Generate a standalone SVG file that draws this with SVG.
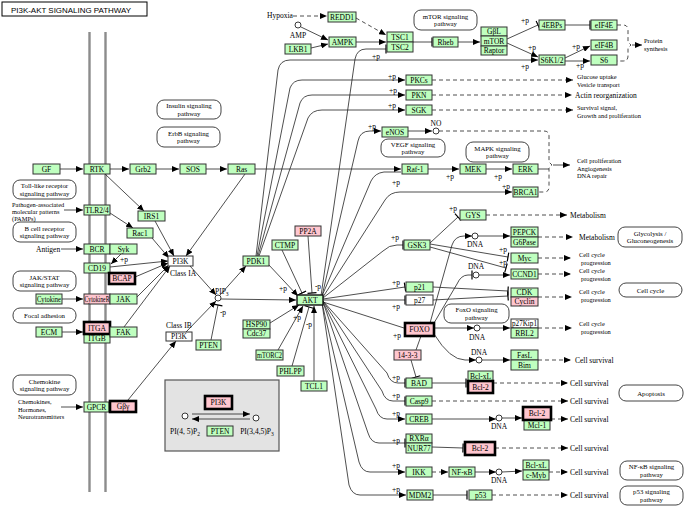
<svg xmlns="http://www.w3.org/2000/svg" width="685" height="508" viewBox="0 0 685 508">
<defs>
<marker id="a" markerWidth="7" markerHeight="6" refX="7" refY="3" orient="auto" markerUnits="userSpaceOnUse"><path d="M0,0L7,3L0,6z" fill="#000"/></marker>
<marker id="b" markerWidth="2" markerHeight="10" refX="1" refY="5" orient="auto" markerUnits="userSpaceOnUse"><path d="M1,0.5V9.5" stroke="#000" stroke-width="1.2"/></marker>
<style>
text{font-family:"Liberation Serif","DejaVu Serif",serif;font-size:7.5px;fill:#000}
.nd text{text-anchor:middle}
.g rect{fill:#bfffbf;stroke:#333;stroke-width:1}
.p rect{fill:#ffc6cf;stroke:#333;stroke-width:1}
.w rect{fill:#fff;stroke:#333;stroke-width:1}
.pb rect{fill:#ffc6cf;stroke:#000;stroke-width:2.6}
.pw rect{fill:#fff;stroke:#444;stroke-width:1}
.pw text{text-anchor:middle;font-size:6.8px}
.e path{fill:none;stroke:#222;stroke-width:0.8}
.e .d{stroke-dasharray:4 3}
.lab{font-size:7px}
.lab .s{font-size:6.4px}
.c{text-anchor:middle}
.dna{fill:#fff;stroke:#222;stroke-width:0.9}
</style>
</defs>
<rect width="685" height="508" fill="#fff"/>
<g id="title"><rect x="2" y="2" width="145" height="14" fill="#fff" stroke="#000" stroke-width="1"/><text x="11" y="12.5" style="font-family:'Liberation Sans',Arial,sans-serif;font-size:8px" textLength="120" lengthAdjust="spacingAndGlyphs">PI3K-AKT SIGNALING PATHWAY</text></g>
<g id="membrane" stroke="#8c8c8c" stroke-width="2.4"><line x1="89.5" y1="32" x2="89.5" y2="492"/><line x1="105.5" y1="32" x2="105.5" y2="492"/></g>
<g id="legend-box"><rect x="165" y="380" width="114" height="71" fill="#e3e3e3" stroke="#555" stroke-width="1.2"/></g>

<g id="pathways">
<g id="pw-insulin" class="pw"><rect x="157" y="100" width="64" height="19" rx="7"/><text x="189" y="108">Insulin signaling</text><text x="189" y="115.5">pathway</text></g>
<g id="pw-erbb" class="pw"><rect x="157" y="127" width="63" height="20" rx="7"/><text x="188.5" y="135.5">ErbB signaling</text><text x="188.5" y="143">pathway</text></g>
<g id="pw-mtor" class="pw"><rect x="414" y="10" width="63" height="20" rx="7"/><text x="445.5" y="18.5">mTOR signaling</text><text x="445.5" y="26">pathway</text></g>
<g id="pw-vegf" class="pw"><rect x="381" y="139" width="64" height="18" rx="7"/><text x="413" y="146.5">VEGF signaling</text><text x="413" y="154">pathway</text></g>
<g id="pw-mapk" class="pw"><rect x="466" y="142" width="63" height="20" rx="7"/><text x="497.5" y="150.5">MAPK signaling</text><text x="497.5" y="158">pathway</text></g>
<g id="pw-toll" class="pw"><rect x="13" y="180" width="63" height="19" rx="7"/><text x="44.5" y="188">Toll-like receptor</text><text x="44.5" y="195.5">signaling pathway</text></g>
<g id="pw-bcr" class="pw"><rect x="13" y="222" width="63" height="20" rx="7"/><text x="44.5" y="230.5">B cell receptor</text><text x="44.5" y="238">signaling pathway</text></g>
<g id="pw-jak" class="pw"><rect x="13" y="271" width="63" height="20" rx="7"/><text x="44.5" y="279.5">JAK/STAT</text><text x="44.5" y="287">signaling pathway</text></g>
<g id="pw-focal" class="pw"><rect x="13" y="308" width="63" height="15" rx="7"/><text x="44.5" y="318">Focal adhesion</text></g>
<g id="pw-chemokine" class="pw"><rect x="13" y="375" width="63" height="20" rx="7"/><text x="44.5" y="383.5">Chemokine</text><text x="44.5" y="391">signaling pathway</text></g>
<g id="pw-foxo" class="pw"><rect x="444" y="304" width="65" height="19" rx="7"/><text x="476.5" y="312">FoxO signaling</text><text x="476.5" y="319.5">pathway</text></g>
<g id="pw-glyco" class="pw"><rect x="618" y="227" width="64" height="20" rx="7"/><text x="650" y="235.5">Glycolysis /</text><text x="650" y="243">Gluconeogenesis</text></g>
<g id="pw-cellcycle" class="pw"><rect x="619" y="283" width="63" height="14" rx="7"/><text x="650.5" y="292.5">Cell cycle</text></g>
<g id="pw-apoptosis" class="pw"><rect x="619" y="385" width="64" height="16" rx="7"/><text x="651" y="395.5">Apoptosis</text></g>
<g id="pw-nfkb" class="pw"><rect x="620" y="461" width="63" height="19" rx="7"/><text x="651.5" y="469">NF-κB signaling</text><text x="651.5" y="476.5">pathway</text></g>
<g id="pw-p53" class="pw"><rect x="620" y="486" width="63" height="19" rx="7"/><text x="651.5" y="494">p53 signaling</text><text x="651.5" y="501.5">pathway</text></g>
</g>

<g id="connectors" class="e">
<path d="M60,169H83" marker-end="url(#a)"/>
<path d="M110,169H129" marker-end="url(#a)"/>
<path d="M156,169H179" marker-end="url(#a)"/>
<path d="M206,169H227" marker-end="url(#a)"/>
<path d="M255,169H401" marker-end="url(#a)"/>
<path d="M105,174L144,211" marker-end="url(#a)"/>
<path d="M155,221L174,256" marker-end="url(#a)"/>
<path d="M245,174L186,256" marker-end="url(#a)"/>
<path d="M110,213L133,228" marker-end="url(#a)"/>
<path d="M152,238L169,258" marker-end="url(#a)"/>
<path d="M121,254L111,264" marker-end="url(#a)"/>
<path d="M110,267L168,261" marker-end="url(#a)"/>
<path d="M135,277L168,263" marker-end="url(#a)"/>
<path d="M137,297L169,265" marker-end="url(#a)"/>
<path d="M124,327L170,266" marker-end="url(#a)"/>
<path d="M128,400L176,341" marker-end="url(#a)"/>
<path d="M64,210H83" marker-end="url(#a)"/>
<path d="M61,249H83" marker-end="url(#a)"/>
<path d="M62,299H83" marker-end="url(#a)"/>
<path d="M62,332H83" marker-end="url(#a)"/>
<path d="M61,407H83" marker-end="url(#a)"/>
<path d="M190,266L216,295" marker-end="url(#a)"/>
<path d="M186,332L216,301" marker-end="url(#a)"/>
<path d="M220,295L246,266" marker-end="url(#a)"/>
<path d="M221,299L296,300" marker-end="url(#a)"/>
<path d="M211,340L218,305" marker-end="url(#b)"/>
<path d="M268,264L298,296" marker-end="url(#a)"/>
<path d="M282,250L302,293" marker-end="url(#b)"/>
<path d="M308,236L312,293" marker-end="url(#b)"/>
<path d="M270,323L299,305" marker-end="url(#a)"/>
<path d="M278,350L303,306" marker-end="url(#a)"/>
<path d="M292,366L309,307" marker-end="url(#b)"/>
<path d="M314,381V306" marker-end="url(#a)"/>
<path d="M323,301L387,373Q390,383 398,383H405" marker-end="url(#b)"/>
<path d="M323,301L382,391Q385,401 393,401H405" marker-end="url(#b)"/>
<path d="M323,302L376,409Q379,419 387,419H405" marker-end="url(#a)"/>
<path d="M323,302L368,433Q371,443 379,443H405" marker-end="url(#b)"/>
<path d="M322,303L359,462Q362,472 370,472H405" marker-end="url(#a)"/>
<path d="M322,303L349,485Q352,495 360,495H406" marker-end="url(#a)"/>
<path d="M323,302L404,328"/>
<path d="M323,300H405" marker-end="url(#b)"/>
<path d="M323,299L405,287" marker-end="url(#b)"/>
<path d="M323,298L383,251Q389,245 397,245H403" marker-end="url(#b)"/>
<path d="M323,297L385,200Q390,192 400,192H512" marker-end="url(#a)"/>
<path d="M322,296L371,181Q375,173 384,172L401,172"/>
<path d="M322,296L358,141Q360,131 370,131H381" marker-end="url(#a)"/>
<path d="M321,296L355,59Q357,49 366,49H386" marker-end="url(#b)"/>
<path d="M256,256L278,70Q280,60 290,60H538" marker-end="url(#a)"/>
<path d="M257,256L290,88Q293,80 302,80H405" marker-end="url(#a)"/>
<path d="M258,256L300,103Q303,95 312,95H405" marker-end="url(#a)"/>
<path d="M259,256L308,118Q312,110 322,110H405" marker-end="url(#a)"/>
<path class="d" d="M293,16H327" marker-end="url(#a)"/>
<path class="d" d="M356,18L386,35" marker-end="url(#a)"/>
<path d="M301,27L328,40" marker-end="url(#a)"/>
<path d="M311,48L328,44" marker-end="url(#a)"/>
<path d="M356,42H386" marker-end="url(#a)"/>
<path d="M413,42H432" marker-end="url(#b)"/>
<path d="M458,42H480" marker-end="url(#a)"/>
<path d="M507,39L538,25" marker-end="url(#b)"/>
<path d="M507,43L538,57" marker-end="url(#a)"/>
<path d="M565,25H590" marker-end="url(#b)"/>
<path d="M565,58L590,46" marker-end="url(#a)"/>
<path d="M565,61H590" marker-end="url(#a)"/>
<path class="d" d="M617,25H623Q628,25 628,30V42L631,45L628,48V56Q628,61 623,61H617"/>
<path d="M632,45H642" marker-end="url(#a)"/>
<path class="d" d="M432,80H573" marker-end="url(#a)"/>
<path class="d" d="M432,95H572" marker-end="url(#a)"/>
<path class="d" d="M432,110H573" marker-end="url(#a)"/>
<path d="M408,131H432" marker-end="url(#a)"/>
<path class="d" d="M439,131H544Q549,131 549,136V162L552,165L549,168V187Q549,192 544,192H538"/>
<path d="M538,169H549"/>
<path d="M553,165H570" marker-end="url(#a)"/>
<path d="M428,169H459" marker-end="url(#a)"/>
<path d="M486,169H512" marker-end="url(#a)"/>
<path d="M430,243L458,217" marker-end="url(#b)"/>
<path class="d" d="M486,215H567" marker-end="url(#a)"/>
<path d="M430,244L508,257" marker-end="url(#b)"/>
<path d="M430,247L506,268" marker-end="url(#b)"/>
<path d="M430,323L452,245Q455,236 464,236H472" marker-end="url(#a)"/>
<path d="M478,236H510" marker-end="url(#a)"/>
<path class="d" d="M538,237H573" marker-end="url(#a)"/>
<path class="d" d="M538,258H571" marker-end="url(#a)"/>
<path d="M434,323L457,284Q461,275 468,275H472" marker-end="url(#b)"/>
<path d="M479,275H510" marker-end="url(#a)"/>
<path class="d" d="M538,274H571" marker-end="url(#a)"/>
<path d="M433,287L508,291" marker-end="url(#b)"/>
<path d="M433,300L508,296" marker-end="url(#b)"/>
<path class="d" d="M538,297H572" marker-end="url(#a)"/>
<path d="M434,328H474" marker-end="url(#a)"/>
<path d="M480,328H510" marker-end="url(#a)"/>
<path class="d" d="M538,328H572" marker-end="url(#a)"/>
<path d="M434,334Q450,360 465,360H476" marker-end="url(#a)"/>
<path d="M482,360H510" marker-end="url(#a)"/>
<path class="d" d="M538,360H571" marker-end="url(#a)"/>
<path d="M416,350L421,336"/>
<path d="M411,360L416,377" marker-end="url(#b)"/>
<path d="M432,383H466" marker-end="url(#b)"/>
<path class="d" d="M493,383H568" marker-end="url(#a)"/>
<path class="d" d="M432,401H568" marker-end="url(#a)"/>
<path d="M432,419H496" marker-end="url(#a)"/>
<path d="M502,418H522" marker-end="url(#a)"/>
<path class="d" d="M551,419H568" marker-end="url(#a)"/>
<path d="M432,447L463,448" marker-end="url(#b)"/>
<path class="d" d="M495,448H568" marker-end="url(#a)"/>
<path class="d" d="M432,472H448" marker-end="url(#a)"/>
<path d="M475,472H496" marker-end="url(#a)"/>
<path d="M502,472L522,471" marker-end="url(#a)"/>
<path class="d" d="M549,472H568" marker-end="url(#a)"/>
<path d="M433,495H467" marker-end="url(#b)"/>
<path class="d" d="M492,495H568" marker-end="url(#a)"/>
<path d="M192,414H250" marker-end="url(#a)"/>
<path d="M250,419H192" marker-end="url(#a)"/>
</g>

<g id="compounds">
<circle class="dna" cx="218" cy="298" r="3"/>
<circle class="dna" cx="298" cy="25" r="3"/>
<circle class="dna" cx="436" cy="131" r="3"/>
<circle class="dna" cx="475" cy="236" r="3"/>
<circle class="dna" cx="476" cy="275" r="3"/>
<circle class="dna" cx="477" cy="328" r="3"/>
<circle class="dna" cx="479" cy="360" r="3"/>
<circle class="dna" cx="499" cy="418" r="3"/>
<circle class="dna" cx="499" cy="472" r="3"/>
<circle class="dna" cx="185" cy="416" r="3"/>
<circle class="dna" cx="256" cy="418" r="3"/>
</g>

<g id="nodes" class="nd">
<g id="GF" class="g"><rect x="33" y="164" width="27" height="10"/><text x="46.5" y="171.6">GF</text></g>
<g id="RTK" class="g"><rect x="84" y="164" width="26" height="10"/><text x="97" y="171.6">RTK</text></g>
<g id="Grb2" class="g"><rect x="130" y="164" width="26" height="10"/><text x="143" y="171.6">Grb2</text></g>
<g id="SOS" class="g"><rect x="180" y="164" width="26" height="10"/><text x="193" y="171.6">SOS</text></g>
<g id="Ras" class="g"><rect x="228" y="164" width="27" height="10"/><text x="241.5" y="171.6">Ras</text></g>
<g id="TLR24" class="g"><rect x="84" y="205" width="26" height="10"/><text x="97" y="212.6">TLR2/4</text></g>
<g id="IRS1" class="g"><rect x="138" y="211" width="27" height="10"/><text x="151.5" y="218.6">IRS1</text></g>
<g id="Rac1" class="g"><rect x="127" y="228" width="26" height="10"/><text x="140" y="235.6">Rac1</text></g>
<g id="BCR" class="g"><rect x="84" y="244" width="26" height="10"/><text x="97" y="251.6">BCR</text></g>
<g id="Syk" class="g"><rect x="110" y="244" width="27" height="10"/><text x="123.5" y="251.6">Syk</text></g>
<g id="CD19" class="g"><rect x="84" y="263" width="26" height="10"/><text x="97" y="270.6">CD19</text></g>
<g id="BCAP" class="pb"><rect x="109" y="273" width="26" height="11"/><text x="122" y="281.1">BCAP</text></g>
<g id="PI3K-IA" class="w"><rect x="168" y="256" width="25" height="10"/><text x="180.5" y="263.6">PI3K</text></g>
<g id="Cytokine" class="g"><rect x="36" y="294" width="26" height="10"/><text x="49" y="301.6" textLength="24" lengthAdjust="spacingAndGlyphs">Cytokine</text></g>
<g id="CytokineR" class="p"><rect x="84" y="294" width="26" height="10"/><text x="97" y="301.6" textLength="25" lengthAdjust="spacingAndGlyphs">CytokineR</text></g>
<g id="JAK" class="g"><rect x="110" y="294" width="27" height="10"/><text x="123.5" y="301.6">JAK</text></g>
<g id="ECM" class="g"><rect x="36" y="327" width="26" height="10"/><text x="49" y="334.6">ECM</text></g>
<g id="ITGB" class="g"><rect x="84" y="334" width="26" height="9"/><text x="97" y="341.1">ITGB</text></g>
<g id="ITGA" class="pb"><rect x="84" y="322" width="26" height="12"/><text x="97" y="330.6">ITGA</text></g>
<g id="FAK" class="g"><rect x="110" y="327" width="27" height="10"/><text x="123.5" y="334.6">FAK</text></g>
<g id="PI3K-IB" class="w"><rect x="166" y="332" width="26" height="9"/><text x="179" y="339.1">PI3K</text></g>
<g id="PTEN" class="g"><rect x="196" y="340" width="25" height="10"/><text x="208.5" y="347.6">PTEN</text></g>
<g id="GPCR" class="g"><rect x="84" y="402" width="25" height="10"/><text x="96.5" y="409.6">GPCR</text></g>
<g id="Gbg" class="pb"><rect x="110" y="401" width="26" height="11"/><text x="123" y="409.1">Gβγ</text></g>
<g id="PDK1" class="g"><rect x="243" y="256" width="26" height="10"/><text x="256" y="263.6">PDK1</text></g>
<g id="CTMP" class="g"><rect x="272" y="240" width="26" height="10"/><text x="285" y="247.6">CTMP</text></g>
<g id="PP2A" class="p"><rect x="295" y="226" width="26" height="10"/><text x="308" y="233.6">PP2A</text></g>
<g id="AKT" class="g"><rect x="297" y="295" width="26" height="10" style="stroke:#111;stroke-width:1.4"/><text x="310" y="302.6">AKT</text></g>
<g id="HSP90" class="g"><rect x="243" y="320" width="27" height="9"/><text x="256.5" y="327.1">HSP90</text></g>
<g id="Cdc37" class="g"><rect x="243" y="329" width="27" height="9"/><text x="256.5" y="336.1">Cdc37</text></g>
<g id="mTORC2" class="g"><rect x="256" y="350" width="27" height="10"/><text x="269.5" y="357.6" textLength="25" lengthAdjust="spacingAndGlyphs">mTORC2</text></g>
<g id="PHLPP" class="g"><rect x="277" y="366" width="27" height="10"/><text x="290.5" y="373.6">PHLPP</text></g>
<g id="TCL1" class="g"><rect x="301" y="381" width="26" height="10"/><text x="314" y="388.6">TCL1</text></g>
<g id="REDD1" class="g"><rect x="328" y="12" width="28" height="10"/><text x="342" y="19.6">REDD1</text></g>
<g id="AMPK" class="g"><rect x="329" y="37" width="27" height="10"/><text x="342.5" y="44.6">AMPK</text></g>
<g id="LKB1" class="g"><rect x="285" y="44" width="26" height="10"/><text x="298" y="51.6">LKB1</text></g>
<g id="TSC1" class="g"><rect x="387" y="32" width="26" height="10"/><text x="400" y="39.6">TSC1</text></g>
<g id="TSC2" class="g"><rect x="387" y="42" width="26" height="10"/><text x="400" y="49.6">TSC2</text></g>
<g id="Rheb" class="g"><rect x="433" y="37" width="25" height="10"/><text x="445.5" y="44.6">Rheb</text></g>
<g id="GbL" class="g"><rect x="481" y="27" width="26" height="9"/><text x="494" y="34.1">GβL</text></g>
<g id="mTOR" class="g"><rect x="481" y="36" width="26" height="10"/><text x="494" y="43.6">mTOR</text></g>
<g id="Raptor" class="g"><rect x="481" y="46" width="26" height="9"/><text x="494" y="53.1">Raptor</text></g>
<g id="4EBPs" class="g"><rect x="539" y="20" width="26" height="10"/><text x="552" y="27.6">4EBPs</text></g>
<g id="eIF4E" class="g"><rect x="591" y="20" width="26" height="10"/><text x="604" y="27.6">eIF4E</text></g>
<g id="eIF4B" class="g"><rect x="591" y="40" width="26" height="10"/><text x="604" y="47.6">eIF4B</text></g>
<g id="S6" class="g"><rect x="591" y="55" width="26" height="10"/><text x="604" y="62.6">S6</text></g>
<g id="S6K12" class="g"><rect x="539" y="55" width="26" height="10"/><text x="552" y="62.6">S6K1/2</text></g>
<g id="PKCs" class="g"><rect x="406" y="75" width="26" height="10"/><text x="419" y="82.6">PKCs</text></g>
<g id="PKN" class="g"><rect x="406" y="90" width="26" height="10"/><text x="419" y="97.6">PKN</text></g>
<g id="SGK" class="g"><rect x="406" y="105" width="26" height="10"/><text x="419" y="112.6">SGK</text></g>
<g id="eNOS" class="g"><rect x="382" y="127" width="26" height="10"/><text x="395" y="134.6">eNOS</text></g>
<g id="Raf1" class="g"><rect x="402" y="164" width="26" height="10"/><text x="415" y="171.6">Raf-1</text></g>
<g id="MEK" class="g"><rect x="460" y="164" width="26" height="10"/><text x="473" y="171.6">MEK</text></g>
<g id="ERK" class="g"><rect x="513" y="164" width="25" height="10"/><text x="525.5" y="171.6">ERK</text></g>
<g id="BRCA1" class="g"><rect x="513" y="187" width="25" height="10"/><text x="525.5" y="194.6">BRCA1</text></g>
<g id="GYS" class="g"><rect x="460" y="210" width="26" height="10"/><text x="473" y="217.6">GYS</text></g>
<g id="GSK3" class="g"><rect x="404" y="240" width="26" height="10"/><text x="417" y="247.6">GSK3</text></g>
<g id="PEPCK" class="g"><rect x="511" y="227" width="27" height="10"/><text x="524.5" y="234.6">PEPCK</text></g>
<g id="G6Pase" class="g"><rect x="511" y="237" width="27" height="10"/><text x="524.5" y="244.6">G6Pase</text></g>
<g id="Myc" class="g"><rect x="511" y="253" width="27" height="10"/><text x="524.5" y="260.6">Myc</text></g>
<g id="CCND1" class="g"><rect x="511" y="269" width="27" height="10"/><text x="524.5" y="276.6">CCND1</text></g>
<g id="CDK" class="g"><rect x="511" y="288" width="27" height="9"/><text x="524.5" y="295.1">CDK</text></g>
<g id="Cyclin" class="p"><rect x="511" y="297" width="27" height="9"/><text x="524.5" y="304.1">Cyclin</text></g>
<g id="p21" class="g"><rect x="406" y="282" width="27" height="10"/><text x="419.5" y="289.6">p21</text></g>
<g id="p27" class="w"><rect x="406" y="295" width="27" height="10"/><text x="419.5" y="302.6">p27</text></g>
<g id="FOXO" class="pb"><rect x="405" y="323" width="29" height="13"/><text x="419.5" y="332.1">FOXO</text></g>
<g id="14-3-3" class="p"><rect x="394" y="350" width="27" height="10"/><text x="407.5" y="357.6">14-3-3</text></g>
<g id="p27Kip1" class="w"><rect x="511" y="319" width="27" height="9"/><text x="524.5" y="326.1" textLength="25" lengthAdjust="spacingAndGlyphs">p27Kip1</text></g>
<g id="RBL2" class="g"><rect x="511" y="328" width="27" height="10"/><text x="524.5" y="335.6">RBL2</text></g>
<g id="FasL" class="g"><rect x="511" y="350" width="27" height="10"/><text x="524.5" y="357.6">FasL</text></g>
<g id="Bim" class="g"><rect x="511" y="360" width="27" height="10"/><text x="524.5" y="367.6">Bim</text></g>
<g id="BAD" class="g"><rect x="406" y="378" width="26" height="10"/><text x="419" y="385.6">BAD</text></g>
<g id="BclxL-1" class="g"><rect x="468" y="371" width="25" height="10"/><text x="480.5" y="378.6">Bcl-xL</text></g>
<g id="Bcl2-1" class="pb"><rect x="468" y="381" width="25" height="12"/><text x="480.5" y="389.6">Bcl-2</text></g>
<g id="Casp9" class="g"><rect x="406" y="396" width="26" height="10"/><text x="419" y="403.6">Casp9</text></g>
<g id="CREB" class="g"><rect x="406" y="414" width="26" height="10"/><text x="419" y="421.6">CREB</text></g>
<g id="Mcl1" class="g"><rect x="524" y="420" width="26" height="10"/><text x="537" y="427.6">Mcl-1</text></g>
<g id="Bcl2-2" class="pb"><rect x="523" y="407" width="28" height="13"/><text x="537" y="416.1">Bcl-2</text></g>
<g id="RXRa" class="g"><rect x="406" y="434" width="26" height="9"/><text x="419" y="441.1">RXRα</text></g>
<g id="NUR77" class="g"><rect x="406" y="443" width="26" height="10"/><text x="419" y="450.6">NUR77</text></g>
<g id="Bcl2-3" class="pb"><rect x="465" y="442" width="30" height="13"/><text x="480" y="451.1">Bcl-2</text></g>
<g id="IKK" class="g"><rect x="406" y="467" width="26" height="10"/><text x="419" y="474.6">IKK</text></g>
<g id="NFkB" class="g"><rect x="449" y="467" width="26" height="10"/><text x="462" y="474.6">NF-κB</text></g>
<g id="BclxL-2" class="g"><rect x="523" y="460" width="26" height="10"/><text x="536" y="467.6">Bcl-xL</text></g>
<g id="cMyb" class="g"><rect x="523" y="470" width="26" height="10"/><text x="536" y="477.6">c-Myb</text></g>
<g id="MDM2" class="g"><rect x="407" y="490" width="26" height="10"/><text x="420" y="497.6">MDM2</text></g>
<g id="p53" class="g"><rect x="469" y="490" width="23" height="10"/><text x="480.5" y="497.6">p53</text></g>
<g id="PI3K-legend" class="pb"><rect x="205" y="396" width="27" height="13"/><text x="218.5" y="405.1">PI3K</text></g>
<g id="PTEN-legend" class="g"><rect x="207" y="426" width="26" height="10"/><text x="220" y="433.6">PTEN</text></g>
</g>

<g id="labels" class="lab">
<text class="s" x="12" y="206.5">Pathogen-associated</text>
<text class="s" x="12" y="213.5">molecular patterns</text>
<text class="s" x="12" y="220.5">(PAMPs)</text>
<text x="36" y="251.5">Antigen</text>
<text class="s" x="18" y="404">Chemokines,</text>
<text class="s" x="18" y="411.5">Hormones,</text>
<text class="s" x="18" y="419">Neurotransmitters</text>
<text x="267" y="18">Hypoxia</text>
<text class="c" x="298" y="37.5">AMP</text>
<text x="170" y="276">Class IA</text>
<text x="166" y="328">Class IB</text>
<text x="215" y="294">PIP<tspan font-size="5.5" dy="1.5">3</tspan></text>
<text class="c" x="436" y="126">NO</text>
<text class="c" x="475" y="247">DNA</text>
<text class="c" x="476" y="269">DNA</text>
<text class="c" x="477" y="340">DNA</text>
<text class="c" x="479" y="355">DNA</text>
<text class="c" x="499" y="429">DNA</text>
<text class="c" x="499" y="483">DNA</text>
<text class="c" x="185" y="434">PI(4, 5)P<tspan font-size="5.5" dy="1.5">2</tspan></text>
<text class="c" x="257" y="434">PI(3,4,5)P<tspan font-size="5.5" dy="1.5">3</tspan></text>
<text class="s" x="644" y="43">Protein</text>
<text class="s" x="644" y="50.5">synthesis</text>
<text class="s" x="577" y="79">Glucose uptake</text>
<text class="s" x="577" y="86.5">Vesicle transport</text>
<text x="575" y="97.5">Actin reorganization</text>
<text class="s" x="577" y="110">Survival signal,</text>
<text class="s" x="577" y="117.5">Growth and proliferation</text>
<text class="s" x="577" y="163">Cell proliferation</text>
<text class="s" x="577" y="170.5">Angiogenesis</text>
<text class="s" x="577" y="178">DNA repair</text>
<text x="570" y="217.5">Metabolism</text>
<text x="579" y="239.5">Metabolism</text>
<text class="s" x="579" y="257">Cell cycle</text><text class="s" x="581" y="264.5">progression</text>
<text class="s" x="579" y="273">Cell cycle</text><text class="s" x="581" y="280.5">progression</text>
<text class="s" x="579" y="294">Cell cycle</text><text class="s" x="581" y="301.5">progression</text>
<text class="s" x="579" y="326">Cell cycle</text><text class="s" x="581" y="333.5">progression</text>
<text x="575" y="363">Cell survival</text>
<text x="570" y="385.5">Cell survival</text>
<text x="570" y="403.5">Cell survival</text>
<text x="570" y="421.5">Cell survival</text>
<text x="570" y="450.5">Cell survival</text>
<text x="570" y="474.5">Cell survival</text>
<text x="570" y="497.5">Cell survival</text>
</g>

<g id="p-labels" class="lab">
<text class="c" x="376" y="59">+p</text>
<text class="c" x="372" y="129">+p</text>
<text class="c" x="392" y="79">+p</text>
<text class="c" x="393" y="93">+p</text>
<text class="c" x="392" y="108">+p</text>
<text class="c" x="525" y="69">+p</text>
<text class="c" x="532" y="50">+p</text>
<text class="c" x="525" y="23">+p</text>
<text class="c" x="576" y="49">+p</text>
<text class="c" x="580" y="68">+p</text>
<text class="c" x="396" y="185">+p</text>
<text class="c" x="450" y="179">+p</text>
<text class="c" x="498" y="179">+p</text>
<text class="c" x="506" y="189">+p</text>
<text class="c" x="453" y="211">+p</text>
<text class="c" x="395" y="240">+p</text>
<text class="c" x="503" y="252">+p</text>
<text class="c" x="503" y="265">+p</text>
<text class="c" x="396" y="285">+p</text>
<text class="c" x="396" y="309">+p</text>
<text class="c" x="397" y="338">+p</text>
<text class="c" x="396" y="380">+p</text>
<text class="c" x="396" y="398">+p</text>
<text class="c" x="396" y="416">+p</text>
<text class="c" x="396" y="443">+p</text>
<text class="c" x="396" y="468">+p</text>
<text class="c" x="396" y="492">+p</text>
<text class="c" x="283" y="291">+p</text>
<text class="c" x="297" y="320">+p</text>
<text class="c" x="318" y="289">-p</text>
<text class="c" x="309" y="327">-p</text>
<text class="c" x="223" y="315">-p</text>
<text class="c" x="124" y="262">+p</text>
</g>
</svg>
